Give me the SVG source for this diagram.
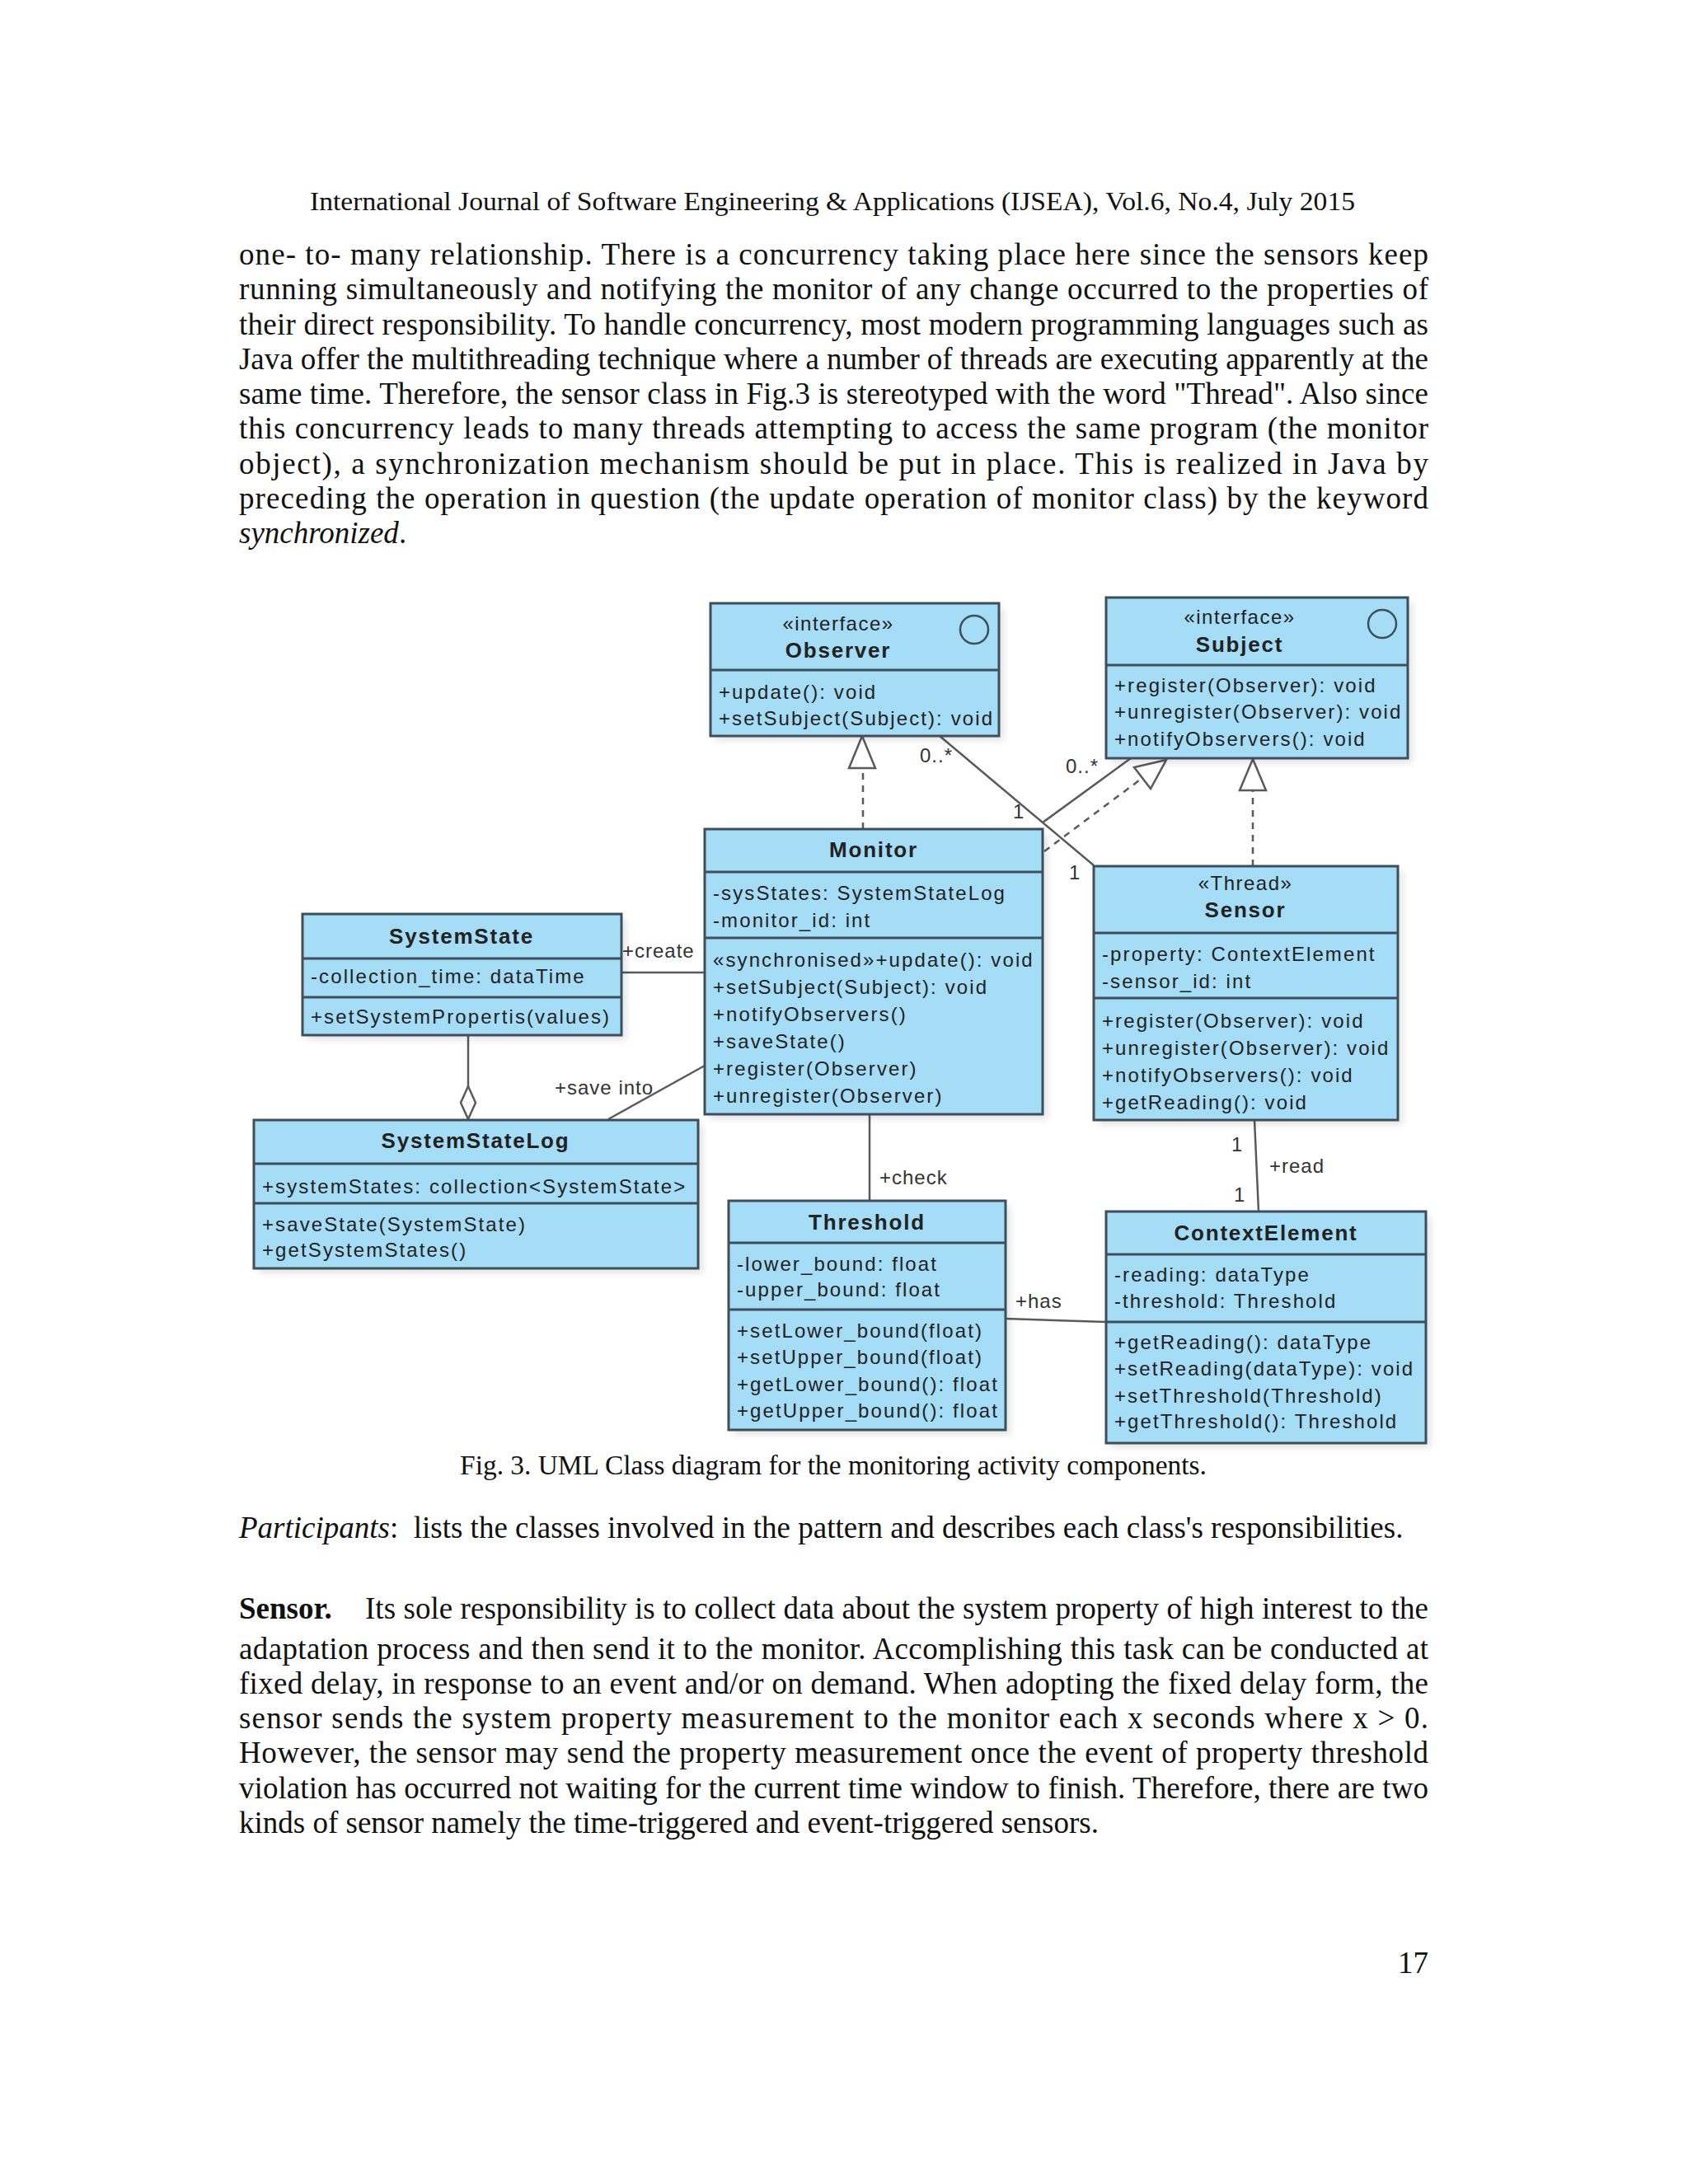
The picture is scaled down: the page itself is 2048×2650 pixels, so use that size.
<svg xmlns="http://www.w3.org/2000/svg" width="2048" height="2650" viewBox="0 0 2048 2650">
<style>
.pg{font-family:"Liberation Serif","Times New Roman",serif;fill:#111;}
.body{font-size:37px;}
.hdr{font-size:32px;}
.cap{font-size:33.4px;}
.box{fill:#a5dcf6;stroke:#3e4f5b;stroke-width:3;}
.sep{stroke:#3e4f5b;stroke-width:3;}
.shd{fill:#000;opacity:0.10;filter:url(#blur);}
.t{font-family:"Liberation Sans",Arial,sans-serif;font-size:24px;letter-spacing:2.1px;fill:#222;}
.n{font-family:"Liberation Sans",Arial,sans-serif;font-size:26px;font-weight:bold;letter-spacing:1.8px;fill:#222;text-anchor:middle;}
.st{font-family:"Liberation Sans",Arial,sans-serif;font-size:24px;letter-spacing:1.5px;fill:#222;text-anchor:middle;}
.ln{stroke:#5a5a5a;stroke-width:2.5;fill:none;}
.ds{stroke:#5a5a5a;stroke-width:2.5;fill:none;stroke-dasharray:8 7;}
.tri{fill:#fff;stroke:#5a5a5a;stroke-width:2.5;}
.lb{font-family:"Liberation Sans",Arial,sans-serif;font-size:24px;letter-spacing:1px;fill:#333;}
.ic{fill:none;stroke:#3e4f5b;stroke-width:2.5;}
</style>
<defs>
<filter id="blur" x="-10%" y="-10%" width="120%" height="120%"><feGaussianBlur stdDeviation="4"/></filter>
</defs>
<rect width="2048" height="2650" fill="#fff"/>

<g id="page-text" class="pg">
<text class="hdr" x="376" y="255" textLength="1268" lengthAdjust="spacingAndGlyphs">International Journal of Software Engineering &amp; Applications (IJSEA), Vol.6, No.4, July 2015</text>
<text class="body" x="290" y="321" textLength="1443" lengthAdjust="spacing">one- to- many relationship.  There is a concurrency taking place here since the sensors keep</text>
<text class="body" x="290" y="363.3" textLength="1443" lengthAdjust="spacing">running simultaneously and notifying the monitor of any change occurred to the properties of</text>
<text class="body" x="290" y="405.5" textLength="1443" lengthAdjust="spacing">their direct responsibility. To handle concurrency, most modern programming languages such as</text>
<text class="body" x="290" y="447.8" textLength="1443" lengthAdjust="spacing">Java offer the multithreading technique where a number of threads are executing apparently at the</text>
<text class="body" x="290" y="490" textLength="1443" lengthAdjust="spacing">same time. Therefore, the sensor class in Fig.3 is stereotyped with the word "Thread". Also since</text>
<text class="body" x="290" y="532.3" textLength="1443" lengthAdjust="spacing">this concurrency leads to many threads attempting to access the same program (the monitor</text>
<text class="body" x="290" y="574.5" textLength="1443" lengthAdjust="spacing">object), a synchronization mechanism should be put in place. This is realized in Java by</text>
<text class="body" x="290" y="616.8" textLength="1443" lengthAdjust="spacing">preceding the operation in question (the update operation of monitor class) by the keyword</text>
<text class="body" x="290" y="659" font-style="italic">synchronized<tspan font-style="normal">.</tspan></text>

<text class="cap" x="1011" y="1789" text-anchor="middle">Fig. 3. UML Class diagram for the monitoring activity components.</text>

<text class="body" x="290" y="1866"><tspan font-style="italic">Participants</tspan>:&#160; lists the classes involved in the pattern and describes each class's responsibilities.</text>

<text class="body" x="290" y="1963.5" font-weight="bold">Sensor.</text>
<text class="body" x="443" y="1963.5" textLength="1290" lengthAdjust="spacing">Its sole responsibility is to collect data about the system property of high interest to the</text>
<text class="body" x="290" y="2012.5" textLength="1443" lengthAdjust="spacing">adaptation process and then send it to the monitor. Accomplishing this task can be conducted at</text>
<text class="body" x="290" y="2054.8" textLength="1443" lengthAdjust="spacing">fixed delay,  in response to an event and/or on demand. When adopting the fixed delay form,  the</text>
<text class="body" x="290" y="2097" textLength="1443" lengthAdjust="spacing">sensor sends the system property measurement to the monitor each x seconds where x &gt; 0.</text>
<text class="body" x="290" y="2139.3" textLength="1443" lengthAdjust="spacing">However, the sensor may send the property measurement once the event of  property threshold</text>
<text class="body" x="290" y="2181.5" textLength="1443" lengthAdjust="spacing">violation has occurred not waiting for the current time window to finish. Therefore, there are two</text>
<text class="body" x="290" y="2223.8">kinds of sensor namely the time-triggered and event-triggered sensors.</text>

<text class="body" x="1733" y="2394" text-anchor="end">17</text>
</g>

<g id="connectors">
<line class="ln" x1="1140" y1="893" x2="1327" y2="1050"/>
<line class="ln" x1="1265" y1="998" x2="1372" y2="920"/>
<line class="ds" x1="1267" y1="1033" x2="1386" y2="944"/>
<polygon class="tri" points="1415,922 1376,931 1396,957"/>
<line class="ds" x1="1047" y1="1006" x2="1047" y2="932"/>
<polygon class="tri" points="1046,893 1030,932 1062,932"/>
<line class="ds" x1="1520" y1="1051" x2="1520" y2="959"/>
<polygon class="tri" points="1520,921 1504,959 1536,959"/>
<line class="ln" x1="754" y1="1180" x2="855" y2="1180"/>
<line class="ln" x1="568" y1="1256" x2="568" y2="1318"/>
<polygon class="tri" points="568,1318 559,1338 568,1358 577,1338"/>
<line class="ln" x1="738" y1="1358" x2="855" y2="1293"/>
<line class="ln" x1="1055" y1="1352" x2="1055" y2="1457"/>
<line class="ln" x1="1522" y1="1359" x2="1527" y2="1470"/>
<line class="ln" x1="1220" y1="1600" x2="1342" y2="1604"/>
<text class="lb" x="1116" y="925">0..*</text>
<text class="lb" x="1293" y="938">0..*</text>
<text class="lb" x="1229" y="993">1</text>
<text class="lb" x="1297" y="1067">1</text>
<text class="lb" x="755" y="1162">+create</text>
<text class="lb" x="673" y="1328">+save into</text>
<text class="lb" x="1067" y="1437">+check</text>
<text class="lb" x="1232" y="1587">+has</text>
<text class="lb" x="1540" y="1423">+read</text>
<text class="lb" x="1494" y="1397">1</text>
<text class="lb" x="1497" y="1458">1</text>
</g>

<g id="Observer">
<rect class="shd" x="868" y="738" width="350" height="161"/>
<rect class="box" x="862" y="732" width="350" height="161"/>
<line class="sep" x1="862" y1="813" x2="1212" y2="813"/>
<circle class="ic" cx="1182" cy="764" r="17"/>
<text class="st" x="1017" y="765">«interface»</text>
<text class="n" x="1017" y="798">Observer</text>
<text class="t" x="872" y="848">+update(): void</text>
<text class="t" x="872" y="880">+setSubject(Subject): void</text>
</g>

<g id="Subject">
<rect class="shd" x="1348" y="731" width="366" height="195"/>
<rect class="box" x="1342" y="725" width="366" height="195"/>
<line class="sep" x1="1342" y1="807" x2="1708" y2="807"/>
<circle class="ic" cx="1677" cy="757" r="17"/>
<text class="st" x="1504" y="757">«interface»</text>
<text class="n" x="1504" y="791">Subject</text>
<text class="t" x="1352" y="840">+register(Observer): void</text>
<text class="t" x="1352" y="872">+unregister(Observer): void</text>
<text class="t" x="1352" y="905">+notifyObservers(): void</text>
</g>

<g id="Monitor">
<rect class="shd" x="861" y="1012" width="410" height="346"/>
<rect class="box" x="855" y="1006" width="410" height="346"/>
<line class="sep" x1="855" y1="1058" x2="1265" y2="1058"/>
<line class="sep" x1="855" y1="1138" x2="1265" y2="1138"/>
<text class="n" x="1060" y="1040">Monitor</text>
<text class="t" x="865" y="1092">-sysStates: SystemStateLog</text>
<text class="t" x="865" y="1125">-monitor_id: int</text>
<text class="t" x="865" y="1173">«synchronised»+update(): void</text>
<text class="t" x="865" y="1206">+setSubject(Subject): void</text>
<text class="t" x="865" y="1239">+notifyObservers()</text>
<text class="t" x="865" y="1272">+saveState()</text>
<text class="t" x="865" y="1305">+register(Observer)</text>
<text class="t" x="865" y="1338">+unregister(Observer)</text>
</g>

<g id="Sensor">
<rect class="shd" x="1333" y="1057" width="369" height="308"/>
<rect class="box" x="1327" y="1051" width="369" height="308"/>
<line class="sep" x1="1327" y1="1132" x2="1696" y2="1132"/>
<line class="sep" x1="1327" y1="1211" x2="1696" y2="1211"/>
<text class="st" x="1511" y="1080">«Thread»</text>
<text class="n" x="1511" y="1113">Sensor</text>
<text class="t" x="1337" y="1166">-property: ContextElement</text>
<text class="t" x="1337" y="1199">-sensor_id: int</text>
<text class="t" x="1337" y="1247">+register(Observer): void</text>
<text class="t" x="1337" y="1280">+unregister(Observer): void</text>
<text class="t" x="1337" y="1313">+notifyObservers(): void</text>
<text class="t" x="1337" y="1346">+getReading(): void</text>
</g>

<g id="SystemState">
<rect class="shd" x="373" y="1115" width="387" height="147"/>
<rect class="box" x="367" y="1109" width="387" height="147"/>
<line class="sep" x1="367" y1="1163" x2="754" y2="1163"/>
<line class="sep" x1="367" y1="1210" x2="754" y2="1210"/>
<text class="n" x="560" y="1145">SystemState</text>
<text class="t" x="377" y="1193">-collection_time: dataTime</text>
<text class="t" x="377" y="1242">+setSystemPropertis(values)</text>
</g>

<g id="SystemStateLog">
<rect class="shd" x="314" y="1365" width="539" height="180"/>
<rect class="box" x="308" y="1359" width="539" height="180"/>
<line class="sep" x1="308" y1="1412" x2="847" y2="1412"/>
<line class="sep" x1="308" y1="1460" x2="847" y2="1460"/>
<text class="n" x="577" y="1393">SystemStateLog</text>
<text class="t" x="318" y="1448">+systemStates: collection&lt;SystemState&gt;</text>
<text class="t" x="318" y="1494">+saveState(SystemState)</text>
<text class="t" x="318" y="1525">+getSystemStates()</text>
</g>

<g id="Threshold">
<rect class="shd" x="890" y="1463" width="336" height="278"/>
<rect class="box" x="884" y="1457" width="336" height="278"/>
<line class="sep" x1="884" y1="1508" x2="1220" y2="1508"/>
<line class="sep" x1="884" y1="1589" x2="1220" y2="1589"/>
<text class="n" x="1052" y="1492">Threshold</text>
<text class="t" x="894" y="1542">-lower_bound: float</text>
<text class="t" x="894" y="1573">-upper_bound: float</text>
<text class="t" x="894" y="1623">+setLower_bound(float)</text>
<text class="t" x="894" y="1655">+setUpper_bound(float)</text>
<text class="t" x="894" y="1688">+getLower_bound(): float</text>
<text class="t" x="894" y="1720">+getUpper_bound(): float</text>
</g>

<g id="ContextElement">
<rect class="shd" x="1348" y="1476" width="388" height="281"/>
<rect class="box" x="1342" y="1470" width="388" height="281"/>
<line class="sep" x1="1342" y1="1522" x2="1730" y2="1522"/>
<line class="sep" x1="1342" y1="1604" x2="1730" y2="1604"/>
<text class="n" x="1536" y="1505">ContextElement</text>
<text class="t" x="1352" y="1555">-reading: dataType</text>
<text class="t" x="1352" y="1587">-threshold: Threshold</text>
<text class="t" x="1352" y="1637">+getReading(): dataType</text>
<text class="t" x="1352" y="1669">+setReading(dataType): void</text>
<text class="t" x="1352" y="1702">+setThreshold(Threshold)</text>
<text class="t" x="1352" y="1733">+getThreshold(): Threshold</text>
</g>
</svg>
